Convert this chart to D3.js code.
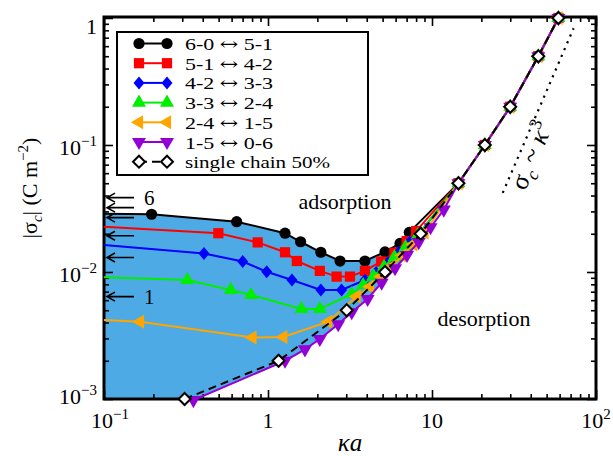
<!DOCTYPE html>
<html>
<head>
<meta charset="utf-8">
<script src="https://cdn.jsdelivr.net/npm/d3@7"></script>
<style>
  body { margin: 0; background: #fff; }
  svg { display: block; }
  text { font-family: "Liberation Serif", "DejaVu Serif", serif; fill: #000; }
</style>
</head>
<body>
<svg id="chart" width="613" height="456" font-family="Liberation Serif, DejaVu Serif, serif"></svg>
<script>
// ---- data: κa (x) and |σc| in C m^-2 (y) for each transition ----
const seriesLabels = ["6-0 ↔ 5-1", "5-1 ↔ 4-2", "4-2 ↔ 3-3", "3-3 ↔ 2-4", "2-4 ↔ 1-5", "1-5 ↔ 0-6"];
const seriesColors = ["#000000", "#ff0000", "#0000ff", "#00ee00", "#ffa500", "#9400d3"];
const seriesShapes = ["circle", "square", "diamond", "triUp", "triLeft", "triDown"];

const ka60 = [0.1, 0.195, 0.644, 1.27, 1.58, 2.10, 2.75, 3.90, 5.17, 6.38, 7.27, 14.5, 21, 30, 44.5, 59];
const sig60 = [0.0287, 0.0285, 0.0249, 0.0202, 0.0173, 0.0143, 0.0122, 0.0122, 0.0144, 0.0168, 0.0205, 0.05, 0.1, 0.2, 0.5, 1.0];

const ka51 = [0.1, 0.498, 0.865, 1.27, 1.50, 2.07, 2.62, 3.16, 3.90, 4.9, 5.9, 7.0, 8.0, 14.5, 21, 30, 44.5, 59];
const sig51 = [0.0227, 0.0202, 0.0171, 0.0143, 0.0122, 0.0102, 0.0092, 0.0092, 0.0102, 0.0121, 0.0142, 0.0175, 0.021, 0.05, 0.1, 0.2, 0.5, 1.0];

const ka42 = [0.1, 0.407, 0.701, 0.982, 1.40, 2.10, 2.81, 3.90, 4.56, 5.4, 6.3, 7.3, 8.5, 14.5, 21, 30, 44.5, 59];
const sig42 = [0.0163, 0.0140, 0.0121, 0.01005, 0.00865, 0.00722, 0.00722, 0.00865, 0.0099, 0.0119, 0.0143, 0.0172, 0.0205, 0.05, 0.1, 0.2, 0.5, 1.0];

const ka33 = [0.1, 0.322, 0.593, 0.788, 1.60, 2.07, 3.24, 3.8, 4.4, 5.1, 5.9, 6.9, 8.2, 14.5, 21, 30, 44.5, 59];
const sig33 = [0.00908, 0.00865, 0.00722, 0.00659, 0.00511, 0.00511, 0.00671, 0.0079, 0.0093, 0.011, 0.0131, 0.0157, 0.0195, 0.05, 0.1, 0.2, 0.5, 1.0];

const ka24 = [0.1, 0.166, 0.805, 1.24, 2.33, 3.47, 4.19, 4.9, 5.7, 6.6, 7.7, 9.0, 14.5, 21, 30, 44.5, 59];
const sig24 = [0.00418, 0.00406, 0.00305, 0.00308, 0.00406, 0.0064, 0.00766, 0.0092, 0.0111, 0.0135, 0.0165, 0.0205, 0.05, 0.1, 0.2, 0.5, 1.0];

const ka15 = [0.351, 1.27, 1.68, 2.07, 2.68, 3.24, 4.05, 4.93, 5.95, 7.04, 8.3, 9.8, 11.8, 14.5, 21, 30, 44.5, 59];
const sig15 = [0.00098, 0.0020, 0.00246, 0.00297, 0.00388, 0.00482, 0.00613, 0.00824, 0.0107, 0.0136, 0.0172, 0.0225, 0.031, 0.05, 0.1, 0.2, 0.5, 1.0];

// single chain, 50% charged
const kaSingle = [0.31, 1.16, 3.02, 5.17, 8.53, 14.5, 21, 30, 44.5, 59];
const sigSingle = [0.001, 0.002, 0.005, 0.01, 0.02, 0.05, 0.1, 0.2, 0.5, 1.0];

// σc ~ κ^3 guide
const kaGuide = [27, 73];
const sigGuide = [0.042, 0.83];

// reference levels marked by arrows on the σ axis (6 at top, 1 at bottom)
const arrowSig = [0.0385, 0.0321, 0.0268, 0.0193, 0.0130, 0.0064];
const arrowText = ["6", "", "", "", "", "1"];

// tick labels
const xTickVals = [0.1, 1, 10, 100];
const xTickBase = ["10", "1", "10", "10"];
const xTickExp = ["−1", "", "", "2"];
const yTickVals = [1e-3, 1e-2, 1e-1, 1];
const yTickBase = ["10", "10", "10", "1"];
const yTickExp = ["−3", "−2", "−1", ""];

// ---- setup ----
const svg = d3.select("#chart");
const L = 104, R = 596, T = 17, B = 399;
const x = d3.scaleLog().domain([0.1, 100]).range([L, R]);
const y = d3.scaleLog().domain([1e-3, 1.018]).range([B, T]);

const zip = (a, b) => a.map((v, i) => [v, b[i]]);
const series = [
  zip(ka60, sig60), zip(ka51, sig51), zip(ka42, sig42),
  zip(ka33, sig33), zip(ka24, sig24), zip(ka15, sig15)
];
const single = zip(kaSingle, sigSingle);

svg.append("defs").append("clipPath").attr("id", "plotArea")
  .append("rect").attr("x", L).attr("y", T).attr("width", R - L).attr("height", B - T);

const line = d3.line().x(d => x(d[0])).y(d => y(d[1]));

// ---- shaded adsorption region: under the 6-0 curve, above the 1-5 curve ----
const upperEdge = series[0].filter(d => d[0] <= 8.5);
const lowerEdge = series[5].filter(d => d[0] <= 8.5).slice().reverse();
const regionPts = upperEdge.concat(lowerEdge, [[0.1, lowerEdge[lowerEdge.length - 1][1]]]);
svg.append("path")
  .attr("clip-path", "url(#plotArea)")
  .attr("d", line(regionPts) + "Z")
  .attr("fill", "#4eaae4");

// ---- ticks on all four sides (pointing inward) ----
function decadeMinors(lo, hi) {
  const out = [];
  for (let e = Math.floor(Math.log10(lo)); e <= Math.ceil(Math.log10(hi)); e++) {
    for (let m = 2; m <= 9; m++) {
      const v = m * Math.pow(10, e);
      if (v > lo && v < hi) out.push(v);
    }
  }
  return out;
}
const xMinor = decadeMinors(0.1, 100);
const yMinor = decadeMinors(1e-3, 1.018);
const yMajor = [1e-3, 1e-2, 1e-1, 1];

function tickAxis(axisFn, scale, vals, size, tx, ty) {
  const g = svg.append("g").attr("transform", `translate(${tx},${ty})`)
    .call(axisFn(scale).tickValues(vals).tickSize(size).tickFormat(""));
  g.select(".domain").remove();
  g.selectAll(".tick line").attr("stroke", "#000").attr("stroke-width", 1.6);
}
tickAxis(d3.axisBottom, x, xTickVals, -9, 0, B);
tickAxis(d3.axisBottom, x, xMinor, -5, 0, B);
tickAxis(d3.axisTop, x, xTickVals, -9, 0, T);
tickAxis(d3.axisTop, x, xMinor, -5, 0, T);
tickAxis(d3.axisLeft, y, yMajor, -9, L, 0);
tickAxis(d3.axisLeft, y, yMinor, -5, L, 0);
tickAxis(d3.axisRight, y, yMajor, -9, R, 0);
tickAxis(d3.axisRight, y, yMinor, -5, R, 0);

// ---- frame ----
svg.append("rect").attr("x", L).attr("y", T).attr("width", R - L).attr("height", B - T)
  .attr("fill", "none").attr("stroke", "#000").attr("stroke-width", 3);

// ---- tick labels ----
function powerLabel(sel, base, exp) {
  sel.append("tspan").text(base);
  if (exp) sel.append("tspan").attr("dy", -9).attr("font-size", 15).text(exp);
}
xTickVals.forEach((v, i) => {
  const t = svg.append("text").attr("x", x(v) + (i === 0 ? 6 : 0)).attr("y", 428)
    .attr("text-anchor", "middle").attr("font-size", 22);
  powerLabel(t, xTickBase[i], xTickExp[i]);
});
yTickVals.forEach((v, i) => {
  const base = Math.min(Math.max(y(v) + 10, 34), 404);
  const t = svg.append("text").attr("x", 97).attr("y", base)
    .attr("text-anchor", "end").attr("font-size", 22);
  powerLabel(t, yTickBase[i], yTickExp[i]);
});

// ---- axis titles ----
svg.append("text").attr("x", 350).attr("y", 451).attr("text-anchor", "middle")
  .attr("font-size", 25).attr("font-style", "italic").text("κa");

const yt = svg.append("text").attr("transform", "translate(37,188) rotate(-90)")
  .attr("text-anchor", "middle").attr("font-size", 22);
yt.append("tspan").text("|σ");
yt.append("tspan").attr("font-style", "italic").attr("font-size", 15).attr("dy", 5).text("c");
yt.append("tspan").attr("dy", -5).text("| (C m");
yt.append("tspan").attr("font-size", 15).attr("dy", -9).text("−2");
yt.append("tspan").attr("dy", 9).text(")");

// ---- region annotations ----
svg.append("text").attr("x", 345).attr("y", 209).attr("text-anchor", "middle")
  .attr("font-size", 22).text("adsorption");
svg.append("text").attr("x", 484).attr("y", 326).attr("text-anchor", "middle")
  .attr("font-size", 22).text("desorption");

// ---- arrows marking reference charge densities ----
const arrowG = svg.append("g");
arrowSig.forEach((s, i) => {
  const yy = y(s), tip = L + 3;
  arrowG.append("path")
    .attr("d", `M${tip},${yy}L${tip + 27},${yy}M${tip + 8},${yy - 4.5}L${tip},${yy}L${tip + 8},${yy + 4.5}`)
    .attr("fill", "none").attr("stroke", "#000").attr("stroke-width", 1.6);
  if (arrowText[i]) {
    arrowG.append("text").attr("x", tip + 37).attr("y", yy + 7)
      .attr("font-size", 21).text(arrowText[i]);
  }
});

// ---- κ^3 guide ----
svg.append("path").attr("d", line(zip(kaGuide, sigGuide)))
  .attr("fill", "none").attr("stroke", "#000").attr("stroke-width", 2.2)
  .attr("stroke-dasharray", "2.2 5.2");
const gx = 539, gy = 159;
const gl = svg.append("text").attr("transform", `translate(${gx},${gy}) rotate(-67)`)
  .attr("text-anchor", "middle").attr("font-size", 26);
gl.append("tspan").text("σ");
gl.append("tspan").attr("font-size", 18).attr("font-style", "italic").attr("dy", 6).text("c");
gl.append("tspan").attr("dy", -6).text("\u00a0~\u00a0");
gl.append("tspan").attr("font-style", "italic").text("κ");
gl.append("tspan").attr("font-size", 18).attr("dy", -11).text("3");

// ---- marker shapes ----
const diamondPath = "M0,-6.5L5.5,0L0,6.5L-5.5,0Z";
function drawMarker(g, shape, color, cx, cy) {
  let el;
  if (shape === "circle") {
    el = g.append("circle").attr("r", 5.6).attr("cx", cx).attr("cy", cy);
  } else if (shape === "square") {
    el = g.append("path").attr("d", d3.symbol(d3.symbolSquare, 105)()).attr("transform", `translate(${cx},${cy})`);
  } else if (shape === "diamond") {
    el = g.append("path").attr("d", diamondPath).attr("transform", `translate(${cx},${cy})`);
  } else {
    const rot = shape === "triUp" ? 0 : shape === "triLeft" ? -90 : 180;
    el = g.append("path").attr("d", d3.symbol(d3.symbolTriangle, 85)())
      .attr("transform", `translate(${cx},${cy}) rotate(${rot})`);
  }
  el.attr("fill", color);
}
function drawOpenDiamond(g, cx, cy) {
  g.append("path").attr("d", "M0,-6L6,0L0,6L-6,0Z").attr("transform", `translate(${cx},${cy})`)
    .attr("fill", "#fff").attr("stroke", "#000").attr("stroke-width", 2);
}

// ---- series lines and markers ----
series.forEach((pts, i) => {
  const g = svg.append("g");
  g.append("path").attr("clip-path", "url(#plotArea)").attr("d", line(pts))
    .attr("fill", "none").attr("stroke", seriesColors[i]).attr("stroke-width", 2);
  pts.filter(d => d[0] > 0.1).forEach(d => drawMarker(g, seriesShapes[i], seriesColors[i], x(d[0]), y(d[1])));
});

const sg = svg.append("g");
sg.append("path").attr("d", line(single)).attr("fill", "none").attr("stroke", "#000")
  .attr("stroke-width", 2).attr("stroke-dasharray", "8 5");
single.forEach(d => drawOpenDiamond(sg, x(d[0]), y(d[1])));

// ---- legend ----
const lg = svg.append("g");
lg.append("rect").attr("x", 117).attr("y", 32).attr("width", 251).attr("height", 143)
  .attr("fill", "#fff").attr("stroke", "#000").attr("stroke-width", 2);
const rowY = i => 43.5 + i * 19.7;
const lx0 = 139, lx1 = 167;
seriesLabels.forEach((lab, i) => {
  const yy = rowY(i);
  lg.append("line").attr("x1", lx0).attr("x2", lx1).attr("y1", yy).attr("y2", yy)
    .attr("stroke", seriesColors[i]).attr("stroke-width", 2);
  drawMarker(lg, seriesShapes[i], seriesColors[i], lx0, yy);
  drawMarker(lg, seriesShapes[i], seriesColors[i], lx1, yy);
  const [lhs, rhs] = lab.split("↔").map(s => s.trim());
  const t = lg.append("text").attr("x", 185).attr("y", yy + 6.5).attr("font-size", 17.5)
    .attr("textLength", 88).attr("lengthAdjust", "spacingAndGlyphs");
  t.append("tspan").text(lhs + "\u00a0");
  t.append("tspan").attr("font-family", "DejaVu Serif").text("↔");
  t.append("tspan").text("\u00a0" + rhs);
});
{
  const yy = rowY(6);
  lg.append("line").attr("x1", lx0).attr("x2", lx1).attr("y1", yy).attr("y2", yy)
    .attr("stroke", "#000").attr("stroke-width", 2).attr("stroke-dasharray", "8 5");
  drawOpenDiamond(lg, lx0, yy);
  drawOpenDiamond(lg, lx1, yy);
  lg.append("text").attr("x", 185).attr("y", yy + 6.5).attr("font-size", 17.5)
    .attr("textLength", 145).attr("lengthAdjust", "spacingAndGlyphs").text("single chain 50%");
}
</script>
</body>
</html>
